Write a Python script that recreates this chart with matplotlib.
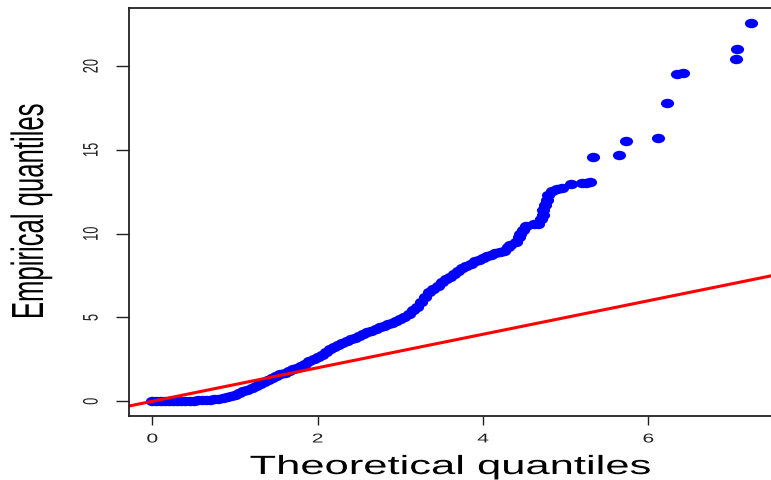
import matplotlib
matplotlib.use("Agg")
import matplotlib.pyplot as plt
from matplotlib.patheffects import AbstractPathEffect
from matplotlib.transforms import Affine2D
from matplotlib.path import Path

# theoretical vs empirical quantiles
theo = [0.00, 0.05, 0.10, 0.15, 0.20, 0.25, 0.30, 0.35, 0.40, 0.45,
        0.50, 0.55, 0.60, 0.65, 0.70, 0.75, 0.80, 0.85, 0.90, 0.95,
        1.00, 1.05, 1.10, 1.15, 1.20, 1.25, 1.30, 1.35, 1.40, 1.45,
        1.50, 1.55, 1.60, 1.65, 1.70, 1.75, 1.80, 1.85, 1.90, 1.95,
        2.00, 2.05, 2.10, 2.15, 2.20, 2.25, 2.30, 2.35, 2.40, 2.45,
        2.50, 2.55, 2.60, 2.65, 2.70, 2.75, 2.80, 2.85, 2.90, 2.95,
        3.00, 3.05, 3.10, 3.15, 3.20, 3.25, 3.30, 3.35, 3.40, 3.45,
        3.50, 3.55, 3.60, 3.65, 3.70, 3.75, 3.80, 3.85, 3.90, 3.95,
        4.00, 4.05, 4.10, 4.15, 4.20, 4.25, 4.30, 4.33, 4.40, 4.43,
        4.45, 4.48, 4.52, 4.62, 4.67, 4.70, 4.72, 4.73, 4.75, 4.77,
        4.79, 4.83, 4.90, 4.95, 5.07, 5.20, 5.25, 5.30, 5.33, 5.65,
        5.73, 6.12, 6.23, 6.35, 6.42, 7.06, 7.07, 7.24]
emp = [0.00, 0.00, 0.00, 0.00, 0.00, 0.00, 0.01, 0.01, 0.02, 0.03,
       0.04, 0.05, 0.06, 0.08, 0.10, 0.12, 0.15, 0.19, 0.25, 0.32,
       0.40, 0.50, 0.60, 0.70, 0.80, 0.92, 1.04, 1.15, 1.27, 1.38,
       1.50, 1.60, 1.70, 1.80, 1.90, 2.00, 2.12, 2.25, 2.38, 2.50,
       2.62, 2.78, 2.95, 3.10, 3.22, 3.34, 3.46, 3.58, 3.70, 3.80,
       3.90, 4.02, 4.12, 4.22, 4.32, 4.42, 4.52, 4.60, 4.70, 4.80,
       4.90, 5.05, 5.22, 5.42, 5.65, 5.90, 6.20, 6.50, 6.72, 6.90,
       7.10, 7.28, 7.44, 7.60, 7.78, 7.95, 8.10, 8.22, 8.35, 8.45,
       8.55, 8.65, 8.75, 8.82, 8.88, 8.95, 9.20, 9.30, 9.50, 9.80,
       10.00, 10.20, 10.45, 10.55, 10.60, 10.85, 11.10, 11.40, 11.70, 12.00,
       12.30, 12.55, 12.65, 12.70, 12.95, 13.00, 13.05, 13.10, 14.60, 14.70,
       15.55, 15.70, 17.80, 19.55, 19.60, 20.45, 21.05, 22.60]

line_intercept = 0.0
line_slope = 1.0

xticks = [0, 2, 4, 6]
yticks = [0, 5, 10, 15, 20]


class Stretch(AbstractPathEffect):
    """draw text glyphs stretched around their centre (reference is wide)"""
    def __init__(self, sx=1.0, sy=1.0):
        super().__init__()
        self.sx, self.sy = sx, sy

    def draw_path(self, renderer, gc, tpath, affine, rgbFace=None):
        ext = tpath.transformed(affine).get_extents()
        cx = ext.x0 + ext.width / 2
        cy = ext.y0 + ext.height / 2
        tr = affine + Affine2D().translate(-cx, -cy).scale(self.sx, self.sy).translate(cx, cy)
        renderer.draw_path(gc, tpath, tr, rgbFace)


plt.rcParams['font.family'] = ['Liberation Sans', 'DejaVu Sans']

W, H = 771, 481
fig = plt.figure(figsize=(W / 100, H / 100), dpi=100)
ax = fig.add_axes([129 / W, 64.3 / H, (790 - 129) / W, 407.4 / H])

# ellipse marker, wider than tall
ell = Path(Affine2D().scale(1.4, 1.0).transform(Path.unit_circle().vertices),
           Path.unit_circle().codes)
ax.plot(theo, emp, linestyle='none', marker=ell, ms=9.5, color='#0000ff', mec='none')
ax.axline((0, line_intercept), slope=line_slope, color='#ff0000', lw=2.2)

ax.set_xlim(-0.282, (790 - 152.3) / 82.67)
ax.set_ylim(-0.86, 23.45)

for s in ax.spines.values():
    s.set_color('#222222')
    s.set_linewidth(1.3)
ax.spines['right'].set_visible(False)

ax.set_xticks(xticks)
ax.set_yticks(yticks)
ax.tick_params(axis='x', direction='out', length=6.8, width=1.0, pad=6,
               labelsize=9.2, colors='#222222')
ax.tick_params(axis='y', direction='out', length=9.5, width=1.0, pad=13,
               labelsize=9.2, labelrotation=90, colors='#222222')
for lab in ax.get_yticklabels():
    lab.set_va('center')
st = [Stretch(1.65, 1.0)]
for lab in ax.get_xticklabels() + ax.get_yticklabels():
    lab.set_path_effects(st)

fig.text(450.5 / W, 1 - 475 / H, 'Theoretical quantiles', ha='center', va='baseline',
         fontsize=19, path_effects=st)
fig.text(31 / W, 1 - 212 / H, 'Empirical quantiles', ha='center', va='center',
         rotation=90, fontsize=18.5, path_effects=[Stretch(1.75, 1.0)])

fig.savefig('out.png', dpi=100)
